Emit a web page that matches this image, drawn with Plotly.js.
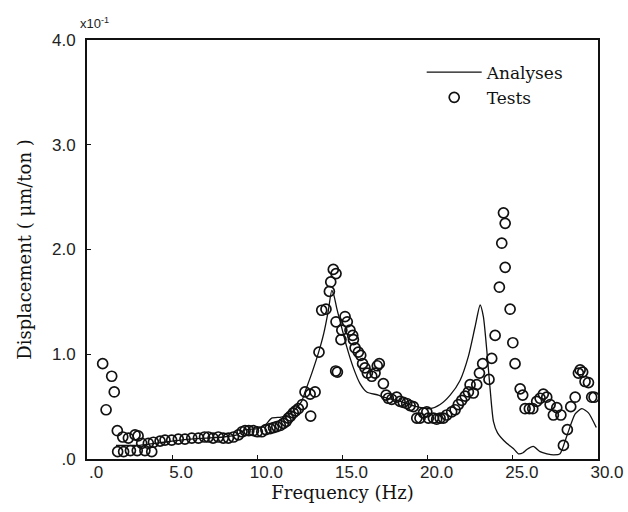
<!DOCTYPE html>
<html>
<head>
<meta charset="utf-8">
<script src="https://cdn.plot.ly/plotly-3.0.1.min.js"></script>
<style>html,body{margin:0;padding:0;background:#fff;}#chart{width:628px;height:512px;}</style>
</head>
<body>
<div id="chart"></div>
<script>
// Frequency (Hz) and displacement (x10^-1 um/ton)
const analysesFreq = [1.7, 2.5, 3.0, 4.0, 5.0, 6.0, 7.0, 8.0, 8.8, 9.3, 10.0, 10.45, 10.84, 11.4, 11.8, 12.2, 12.6, 12.8, 13.2, 13.6, 13.9, 14.17, 14.37, 14.5, 14.66, 14.96, 15.25, 15.64, 16.03, 16.42, 17.1, 17.4, 18.38, 19.36, 20.14, 20.73, 21.32, 21.9, 22.39, 22.78, 23.08, 23.27, 23.47, 23.66, 23.86, 24.1, 24.64, 25.03, 25.33, 25.6, 25.82, 26.2, 26.6, 27.0, 27.4, 27.77, 28.17, 28.66, 29.05, 29.44, 29.9];
const analysesDisp = [0.13, 0.13, 0.13, 0.15, 0.17, 0.19, 0.20, 0.21, 0.23, 0.28, 0.29, 0.32, 0.39, 0.40, 0.42, 0.47, 0.55, 0.64, 0.82, 1.02, 1.20, 1.42, 1.61, 1.56, 1.44, 1.25, 1.07, 0.87, 0.72, 0.64, 0.61, 0.59, 0.55, 0.50, 0.48, 0.52, 0.61, 0.75, 0.98, 1.26, 1.47, 1.36, 1.04, 0.68, 0.36, 0.25, 0.15, 0.10, 0.05, 0.06, 0.09, 0.12, 0.07, 0.05, 0.04, 0.05, 0.22, 0.43, 0.48, 0.44, 0.30];

const testsFreq = [0.92, 1.12, 1.45, 1.6, 1.78, 2.1, 2.43, 2.82, 3.0,
  1.8, 2.15, 2.55, 2.95, 3.4, 3.8,
  3.21, 3.6, 3.9, 4.29, 4.58, 4.97, 5.36, 5.75, 6.15, 6.54, 6.9, 7.12, 7.4, 7.71, 8.0, 8.3, 8.6, 8.89, 9.1, 9.28, 9.5, 9.77, 10.0, 10.26, 10.5, 10.75, 10.95, 11.14, 11.35, 11.53, 11.7, 11.82, 11.95, 12.11, 12.25, 12.41, 12.64,
  12.8, 13.1, 13.13, 13.39, 13.62, 13.78, 14.03, 14.23, 14.31, 14.46, 14.62, 14.6, 14.7, 14.62, 14.91, 14.96, 15.15, 15.28, 15.44, 15.6, 15.64, 15.74, 15.93, 16.07, 16.18, 16.32, 16.46, 16.72, 16.91, 17.04, 17.16, 17.4,
  17.56, 17.69, 17.89, 18.18, 18.38, 18.57, 18.77, 18.97, 19.16, 19.36, 19.55, 19.75, 19.95, 20.04, 20.34, 20.53, 20.73, 20.92, 21.12, 21.41, 21.61, 21.8, 22.0, 22.2, 22.39, 22.49, 22.68, 22.88, 23.04, 23.23, 23.6, 23.76, 23.96,
  24.21, 24.35, 24.45, 24.55, 24.55, 24.84, 25.0, 25.13, 25.43, 25.58, 25.72, 25.97, 26.17, 26.4, 26.6, 26.79, 26.99, 27.19, 27.38, 27.58, 27.82, 27.97, 28.2, 28.4, 28.66, 28.85, 28.95, 29.1, 29.24, 29.44, 29.63, 29.77];
const testsDisp = [0.91, 0.47, 0.79, 0.64, 0.27, 0.21, 0.20, 0.23, 0.22,
  0.07, 0.07, 0.08, 0.08, 0.08, 0.07,
  0.15, 0.15, 0.16, 0.17, 0.18, 0.18, 0.19, 0.19, 0.20, 0.20, 0.21, 0.21, 0.20, 0.21, 0.20, 0.20, 0.21, 0.23, 0.26, 0.27, 0.27, 0.27, 0.26, 0.26, 0.28, 0.29, 0.30, 0.31, 0.32, 0.34, 0.36, 0.39, 0.41, 0.44, 0.46, 0.48, 0.52,
  0.64, 0.62, 0.41, 0.64, 1.02, 1.42, 1.43, 1.60, 1.69, 1.81, 1.77, 0.84, 0.83, 1.31, 1.14, 1.23, 1.36, 1.31, 1.23, 1.18, 1.14, 1.06, 1.02, 0.99, 0.91, 0.87, 0.82, 0.79, 0.82, 0.89, 0.91, 0.72,
  0.61, 0.58, 0.57, 0.59, 0.55, 0.54, 0.53, 0.51, 0.50, 0.39, 0.39, 0.44, 0.45, 0.39, 0.39, 0.38, 0.39, 0.39, 0.42, 0.45, 0.47, 0.52, 0.56, 0.60, 0.64, 0.71, 0.63, 0.71, 0.82, 0.91, 0.76, 0.96, 1.18,
  1.64, 2.06, 2.35, 2.25, 1.83, 1.43, 1.11, 0.91, 0.67, 0.61, 0.48, 0.48, 0.48, 0.55, 0.58, 0.62, 0.59, 0.52, 0.42, 0.49, 0.42, 0.13, 0.28, 0.50, 0.59, 0.82, 0.85, 0.83, 0.74, 0.73, 0.59, 0.59];

const xTickVals = [0, 5, 10, 15, 20, 25, 30];
const xTickText = [".0", "5.0", "10.0", "15.0", "20.0", "25.0", "30.0"];
const yTickVals = [0, 1, 2, 3, 4];
const yTickText = [".0", "1.0", "2.0", "3.0", "4.0"];

const serif = "DejaVu Serif, serif";
const sans = "Liberation Sans, Arial, sans-serif";

const traces = [
  {
    x: analysesFreq, y: analysesDisp, type: "scatter", mode: "lines", name: "Analyses",
    line: {color: "#111", width: 1.3, shape: "spline", smoothing: 0.6}
  },
  {
    x: testsFreq, y: testsDisp, type: "scatter", mode: "markers", name: "Tests",
    marker: {symbol: "circle-open", size: 10, color: "#111", line: {width: 1.7, color: "#111"}}
  }
];

const layout = {
  width: 628, height: 512,
  margin: {l: 87, r: 30, t: 40, b: 53},
  paper_bgcolor: "#fff", plot_bgcolor: "#fff",
  showlegend: true,
  legend: {
    x: 0.655, y: 0.965, xanchor: "left", yanchor: "top",
    bgcolor: "rgba(0,0,0,0)", borderwidth: 0,
    font: {family: serif, size: 17, color: "#111"},
    itemwidth: 55, tracegroupgap: 0
  },
  xaxis: {
    range: [0, 30], tickvals: xTickVals, ticktext: xTickText,
    showgrid: false, zeroline: false,
    showline: true, linecolor: "#111", linewidth: 2, mirror: true,
    ticks: "inside", ticklen: 4, tickcolor: "#111",
    ticklabelshift: 9, ticklabelstandoff: -3,
    tickfont: {family: sans, size: 17, color: "#222"},
    title: {text: "Frequency (Hz)", font: {family: serif, size: 18, color: "#111"}, standoff: 3}
  },
  yaxis: {
    range: [0, 4], tickvals: yTickVals, ticktext: yTickText,
    showgrid: false, zeroline: false,
    showline: true, linecolor: "#111", linewidth: 2, mirror: true,
    ticks: "inside", ticklen: 4, tickcolor: "#111",
    ticklabelstandoff: 6,
    tickfont: {family: sans, size: 17, color: "#222"},
    title: {text: "Displacement ( μm/ton )", font: {family: serif, size: 18, color: "#111"}, standoff: 16}
  },
  annotations: [
    {text: "x10<sup>-1</sup>", xref: "paper", yref: "paper", x: -0.018, y: 1.0, xanchor: "left", yanchor: "bottom",
     yshift: 7, showarrow: false, font: {family: sans, size: 13, color: "#222"}}
  ]
};

Plotly.newPlot("chart", traces, layout, {displayModeBar: false, staticPlot: true});
</script>
</body>
</html>
